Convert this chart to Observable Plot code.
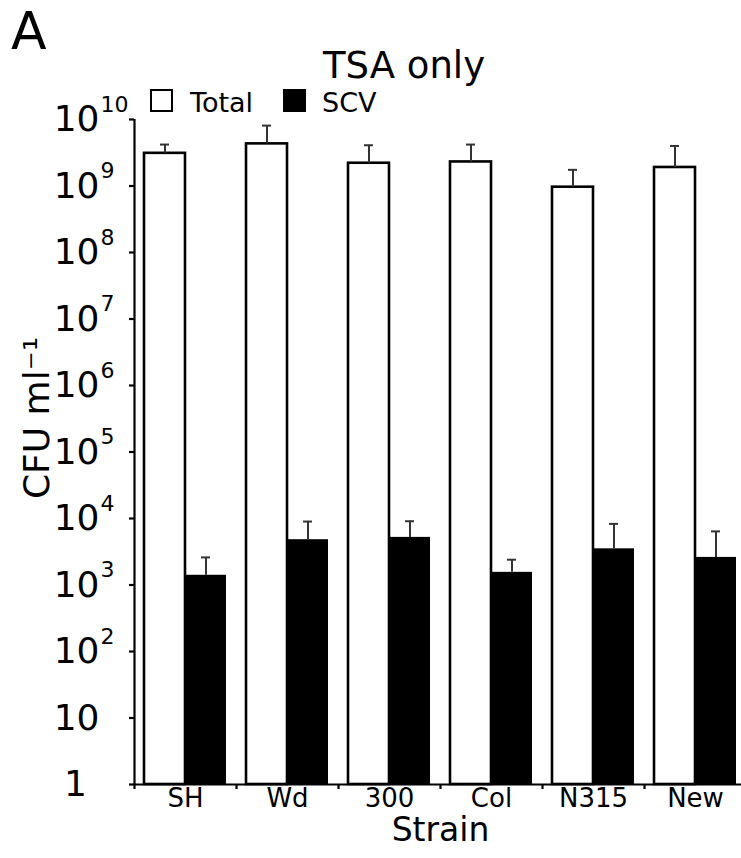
<!DOCTYPE html>
<html>
<head>
<meta charset="utf-8">
<script src="https://cdn.jsdelivr.net/npm/d3@7"></script>
<script src="https://cdn.jsdelivr.net/npm/@observablehq/plot@0.6"></script>
<style>
  html, body { margin: 0; padding: 0; background: #fff; overflow: hidden; }
  #wrap { position: relative; width: 741px; height: 858px; font-family: "DejaVu Sans", sans-serif; color: #000; }
  #wrap svg { position: absolute; left: 0; top: 0; }
  .abs { position: absolute; line-height: 1; white-space: nowrap; }
  .sq { position: absolute; box-sizing: border-box; width: 23px; height: 23px; border: 2px solid #000; }
  g[aria-label="y-axis tick"] { stroke-width: 2.2; }
</style>
</head>
<body>
<div id="wrap">
  <div class="abs" style="left:11px; top:5px; font-size:52px;">A</div>
  <div class="abs" style="left:404px; top:47px; font-size:37px; transform:translateX(-50%);">TSA only</div>
  <div class="sq" style="left:150px; top:89px; background:#fff;"></div>
  <div class="abs" style="left:190px; top:89px; font-size:27px;">Total</div>
  <div class="sq" style="left:283px; top:89px; background:#000;"></div>
  <div class="abs" style="left:322px; top:89px; font-size:27px;">SCV</div>
</div>
<script>
const strains = ["SH", "Wd", "300", "Col", "N315", "New"];
const totalMean  = [3.1e9, 4.3e9, 2.2e9, 2.3e9, 9.6e8, 1.9e9];
const totalUpper = [4.2e9, 8.1e9, 4.1e9, 4.2e9, 1.75e9, 4.0e9];
const scvMean    = [1.4e3, 4.8e3, 5.2e3, 1.55e3, 3.5e3, 2.6e3];
const scvUpper   = [2.6e3, 9.0e3, 9.1e3, 2.4e3, 8.3e3, 6.4e3];
const yTicks    = [1, 10, 1e2, 1e3, 1e4, 1e5, 1e6, 1e7, 1e8, 1e9, 1e10];
const yTickBase = ["1", "10", "10", "10", "10", "10", "10", "10", "10", "10", "10"];
const yTickExp  = ["", "", "2", "3", "4", "5", "6", "7", "8", "9", "10"];

const total = strains.map((s, i) => ({strain: s, value: totalMean[i], upper: totalUpper[i]}));
const scv = strains.map((s, i) => ({strain: s, value: scvMean[i], upper: scvUpper[i]}));
const ticks = yTicks.map((v, i) => ({v, base: yTickBase[i], exp: yTickExp[i]}));

const chart = Plot.plot({
  width: 741,
  height: 858,
  marginLeft: 134,
  marginRight: -5,
  marginTop: 119,
  marginBottom: 74,
  style: {fontFamily: "DejaVu Sans, sans-serif", background: "transparent", color: "#000", overflow: "visible"},
  x: {domain: strains, padding: 0, axis: null},
  y: {type: "log", domain: [1, 1e10], ticks: yTicks, tickFormat: () => "", tickSize: 5, line: true, label: null},
  marks: [
    Plot.barY(total, {x: "strain", y1: 1, y2: "value", fill: "white", stroke: "black", strokeWidth: 2.6, insetLeft: 10, insetRight: 51}),
    Plot.barY(scv, {x: "strain", y1: 1, y2: "value", fill: "black", insetLeft: 51, insetRight: 10}),
    Plot.ruleX(total, {x: "strain", y1: "value", y2: "upper", dx: -20.5, stroke: "#333", strokeWidth: 2}),
    Plot.tickY(total, {x: "strain", y: "upper", insetLeft: 26, insetRight: 67, stroke: "#333", strokeWidth: 2}),
    Plot.ruleX(scv, {x: "strain", y1: "value", y2: "upper", dx: 20.5, stroke: "#333", strokeWidth: 2}),
    Plot.tickY(scv, {x: "strain", y: "upper", insetLeft: 67, insetRight: 26, stroke: "#333", strokeWidth: 2}),
    Plot.ruleY([1], {stroke: "black", strokeWidth: 2.2}),
    Plot.ruleX(strains, {x: d => d, dx: -51, y1: 1, y2: 1, insetBottom: -5, stroke: "black", strokeWidth: 2.2}),
    Plot.ruleX([strains[0]], {x: d => d, dx: -51, y1: 1, y2: 1e10, stroke: "black", strokeWidth: 2.2}),
    Plot.text(strains, {x: d => d, text: d => d, frameAnchor: "bottom", dy: 22, fontSize: 26}),
    Plot.text(["Strain"], {text: d => d, frameAnchor: "bottom", dy: 56, fontSize: 33}),
    Plot.text(ticks.filter(d => d.base === "10"), {y: "v", text: "base", frameAnchor: "left", textAnchor: "end", dx: -35, fontSize: 36}),
    Plot.text(ticks.filter(d => d.base === "1"), {y: "v", text: "base", frameAnchor: "left", textAnchor: "middle", dx: -59, fontSize: 36}),
    Plot.text(ticks.filter(d => d.exp !== ""), {y: "v", text: "exp", frameAnchor: "left", textAnchor: "start", dx: -34, dy: -15, fontSize: 22}),
    Plot.text(["CFU ml\u207B\u00B9"], {text: d => d, frameAnchor: "left", textAnchor: "middle", rotate: -90, dx: -97, dy: -34, fontSize: 36})
  ]
});
document.getElementById("wrap").prepend(chart);
</script>
</body>
</html>
